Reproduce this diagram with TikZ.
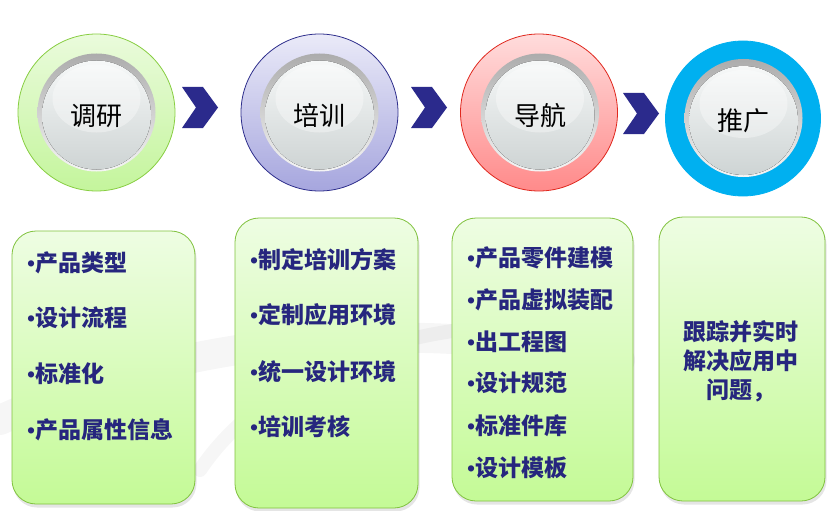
\documentclass[tikz,border=0pt]{standalone}
\usepackage{fontspec}
\newfontfamily\cjk{Noto Sans CJK SC}
\newfontfamily\latin{Liberation Serif}
\usetikzlibrary{shapes.geometric}
\definecolor{navy}{HTML}{26267E}
\definecolor{chevc}{HTML}{2B2A8C}
\definecolor{boxtop}{HTML}{EEFDE3}
\definecolor{boxbot}{HTML}{C4FA96}
\definecolor{boxline}{HTML}{80C23E}
\definecolor{gtop}{HTML}{EAFBDC}
\definecolor{gbot}{HTML}{C4F59C}
\definecolor{gline}{HTML}{88CE42}
\definecolor{ptop}{HTML}{EAEAF8}
\definecolor{pbot}{HTML}{A6A6DE}
\definecolor{pline}{HTML}{2E2E8C}
\definecolor{rtop}{HTML}{FFDCDC}
\definecolor{rbot}{HTML}{FF8A8A}
\definecolor{rline}{HTML}{E0281E}
\definecolor{cyanc}{HTML}{00B0F0}
\definecolor{facetop}{HTML}{F6F8F8}
\definecolor{facebot}{HTML}{CED4D4}
\newcommand{\bul}{{\latin\bfseries •}}
\tikzset{
  ring/.style={circle,minimum size=157pt,inner sep=0pt,line width=0.8pt},
  face/.style={circle,minimum size=118pt,inner sep=0pt,top color=gray!65!white,bottom color=gray!8!white,draw=none},
  infobox/.style={rounded corners=24pt,draw=boxline,line width=0.8pt,top color=boxtop,bottom color=boxbot},
  boxshadow/.style={rounded corners=24pt,fill=black,opacity=0.10},
  itemtxt/.style={anchor=west,inner sep=0pt,text=navy,font=\cjk\bfseries\fontsize{23}{23}\selectfont},
  chev/.pic={\fill[chevc] (0,0) -- (21,0) -- (36,20.5) -- (21,41) -- (0,41) -- (14,20.5) -- cycle;}
}
\begin{document}
\begin{tikzpicture}[x=1pt,y=-1pt]
\useasboundingbox (0,0) rectangle (833,511);
\fill[white] (0,0) rectangle (833,511);
% faint background swoosh
\draw[line width=30pt,black,opacity=0.035,line cap=round] (0,420) .. controls (200,330) and (420,320) .. (620,360);
\draw[line width=14pt,black,opacity=0.035,line cap=round] (200,470) .. controls (260,380) and (380,340) .. (460,330);
% rings
\node[ring,top color=gtop,bottom color=gbot,draw=gline] (c1) at (96.5,112.5) {};
\node[ring,top color=ptop,bottom color=pbot,draw=pline] (c2) at (319.5,112.5) {};
\node[ring,top color=rtop,bottom color=rbot,draw=rline] (c3) at (539,112.5) {};
\node[ring,fill=cyanc,draw=cyanc,minimum size=155pt] (c4) at (743,118.5) {};
% faces
\foreach \n/\x/\y/\t in {1/96.5/112.5/调研,2/319.5/112.5/培训,3/540/112.5/导航,4/743.5/118/推广}{
  \node[face] (f\n) at (\x,\y) {};
  \fill[top color=facetop,bottom color=facebot] (\x,\y+2.5) circle (54.5);
  \fill[white,opacity=0.35] (\x,\y-14) ellipse (44 and 34);
  \node[inner sep=0pt,font=\cjk\fontsize{26}{26}\selectfont] (t\n) at (\x,\y+3) {\t};
}
% chevrons
\pic at (182,87) {chev};
\pic at (411,87) {chev};
\pic at (623,93) {chev};
% boxes
\foreach \a/\b/\c/\d in {12/231/195/504,235/218/418/508,452/218/633/501,659/217/825/501}{
  \fill[boxshadow] (\a+1,\b+3) rectangle (\c+1.5,\d+3.5);
}
\draw[infobox] (12,231) rectangle (195,504);
\draw[infobox] (235,218) rectangle (418,508);
\draw[infobox] (452,218) rectangle (633,501);
\draw[infobox] (659,217) rectangle (825,501);
% box 1
\node[itemtxt] (a1) at (27,263) {\bul 产品类型};
\node[itemtxt] (a2) at (27,318) {\bul 设计流程};
\node[itemtxt] (a3) at (27,374) {\bul 标准化};
\node[itemtxt] (a4) at (27,430) {\bul 产品属性信息};
% box 2
\node[itemtxt] (b1) at (250,260) {\bul 制定培训方案};
\node[itemtxt] (b2) at (250,315) {\bul 定制应用环境};
\node[itemtxt] (b3) at (250,372) {\bul 统一设计环境};
\node[itemtxt] (b4) at (250,427) {\bul 培训考核};
% box 3
\node[itemtxt] (d1) at (467,258) {\bul 产品零件建模};
\node[itemtxt] (d2) at (467,300) {\bul 产品虚拟装配};
\node[itemtxt] (d3) at (467,342) {\bul 出工程图};
\node[itemtxt] (d4) at (467,383) {\bul 设计规范};
\node[itemtxt] (d5) at (467,426) {\bul 标准件库};
\node[itemtxt] (d6) at (467,468) {\bul 设计模板};
% box 4
\node[itemtxt,anchor=north,align=center,font=\cjk\bfseries\fontsize{23}{29}\selectfont] (e1) at (741,320) {跟踪并实时\\解决应用中\\问题，};
\end{tikzpicture}
\end{document}
